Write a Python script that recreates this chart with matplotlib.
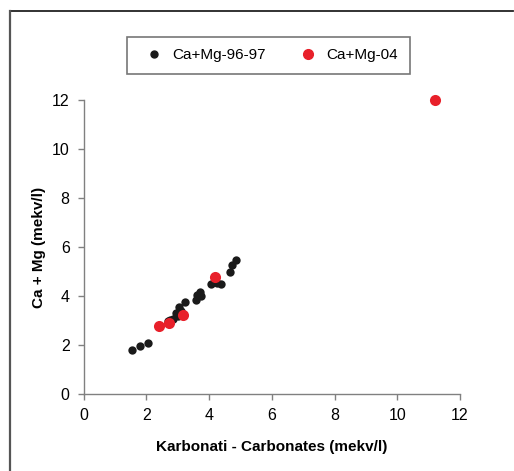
import matplotlib.pyplot as plt
import matplotlib.lines as mlines

plt.rcParams["font.family"] = ["Liberation Sans", "DejaVu Sans"]

# Ca+Mg-96-97 (black)
carb_9697 = [1.53, 1.81, 2.04, 2.69, 2.85, 2.96, 3.04, 3.23, 3.60, 3.62, 3.72, 3.75,
             4.07, 4.39, 4.25, 4.68, 4.74, 4.85, 2.75, 3.00, 3.10]
camg_9697 = [1.80, 1.96, 2.08, 2.98, 3.06, 3.29, 3.54, 3.77, 3.84, 4.03, 4.18, 4.00,
             4.48, 4.48, 4.55, 4.98, 5.27, 5.47, 3.00, 3.20, 3.40]
# Ca+Mg-04 (red)
carb_04 = [2.40, 2.72, 3.17, 4.18, 11.20]
camg_04 = [2.78, 2.88, 3.22, 4.76, 12.00]

fig = plt.figure(figsize=(5.14, 4.71), dpi=100)
ax = fig.add_axes([0.1625, 0.1635, 0.7325, 0.6242])

ax.plot(carb_9697, camg_9697, 'o', color='#1a1a1a', markersize=6, markeredgewidth=0,
        label='Ca+Mg-96-97', clip_on=False)
ax.plot(carb_04, camg_04, 'o', color='#e8202a', markersize=8, markeredgewidth=0,
        label='Ca+Mg-04', clip_on=False)

ax.set_xlim(0, 12)
ax.set_ylim(0, 12)
ax.set_xticks(range(0, 13, 2))
ax.set_yticks(range(0, 13, 2))
for s in ['top', 'right']:
    ax.spines[s].set_visible(False)
for s in ['left', 'bottom']:
    ax.spines[s].set_color('#808080')
    ax.spines[s].set_linewidth(1.0)
ax.tick_params(direction='out', length=4, width=1, color='#808080',
               labelsize=11.5, pad=6)

ax.set_xlabel('Karbonati - Carbonates (mekv/l)', fontsize=11, fontweight='bold',
              labelpad=12)
ax.set_ylabel('Ca + Mg (mekv/l)', fontsize=11, fontweight='bold', labelpad=4)

h1 = mlines.Line2D([], [], color='#1a1a1a', marker='o', linestyle='None', markersize=5)
h2 = mlines.Line2D([], [], color='#e8202a', marker='o', linestyle='None', markersize=7)
leg = fig.legend([h1, h2], ['Ca+Mg-96-97', 'Ca+Mg-04'], loc='center',
                 bbox_to_anchor=(0.522, 0.883), ncol=2, frameon=True, fancybox=False,
                 edgecolor='#555555', fontsize=11, handletextpad=0.2,
                 columnspacing=1.8, borderpad=0.75)
leg.get_frame().set_linewidth(1.2)

# outer frame (top and left edges)
fig.add_artist(mlines.Line2D([10 / 514, 513 / 514], [1 - 11 / 471, 1 - 11 / 471],
                             color='#222222', linewidth=1.3, transform=fig.transFigure))
fig.add_artist(mlines.Line2D([10 / 514, 10 / 514], [1 - 11 / 471, 0],
                             color='#555555', linewidth=1.6, transform=fig.transFigure))

fig.savefig('out.png', dpi=100)
